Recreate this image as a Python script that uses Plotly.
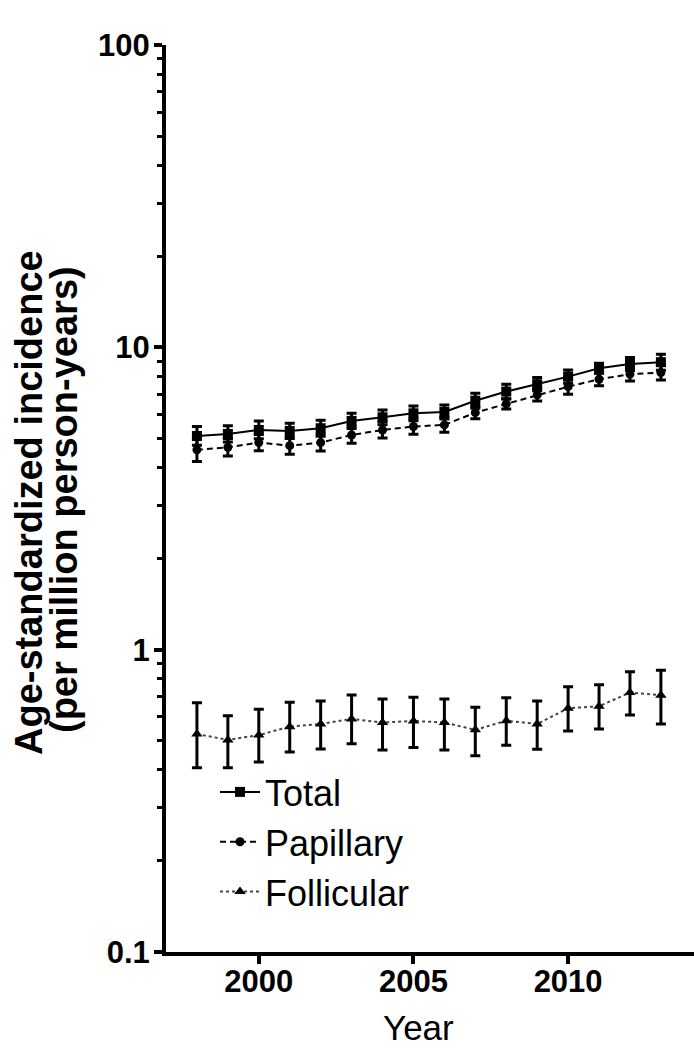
import plotly.graph_objects as go

years = list(range(1998, 2014))

total = [5.09, 5.17, 5.33, 5.29, 5.40, 5.71, 5.87, 6.05, 6.11, 6.66, 7.14, 7.55, 8.00, 8.53, 8.81, 8.93]
total_hi = [5.47, 5.50, 5.71, 5.61, 5.74, 6.05, 6.21, 6.40, 6.45, 7.05, 7.55, 7.94, 8.42, 8.86, 9.25, 9.49]
total_lo = [4.74, 4.86, 4.98, 4.99, 5.08, 5.39, 5.55, 5.72, 5.79, 6.29, 6.75, 7.18, 7.60, 8.21, 8.39, 8.40]

papillary = [4.58, 4.67, 4.84, 4.73, 4.84, 5.13, 5.33, 5.47, 5.54, 6.08, 6.50, 6.96, 7.41, 7.84, 8.15, 8.25]
papillary_hi = [5.01, 4.99, 5.15, 5.05, 5.16, 5.46, 5.67, 5.80, 5.86, 6.37, 6.76, 7.28, 7.84, 8.23, 8.58, 8.73]
papillary_lo = [4.19, 4.37, 4.55, 4.43, 4.54, 4.82, 5.01, 5.16, 5.24, 5.80, 6.25, 6.65, 7.00, 7.47, 7.74, 7.80]

follicular = [0.526, 0.503, 0.522, 0.556, 0.568, 0.590, 0.574, 0.581, 0.574, 0.543, 0.582, 0.568, 0.640, 0.650, 0.721, 0.707]
follicular_hi = [0.668, 0.605, 0.635, 0.670, 0.677, 0.708, 0.687, 0.696, 0.687, 0.645, 0.694, 0.677, 0.754, 0.766, 0.846, 0.855]
follicular_lo = [0.407, 0.407, 0.425, 0.459, 0.469, 0.488, 0.466, 0.475, 0.466, 0.446, 0.483, 0.468, 0.538, 0.547, 0.608, 0.568]

x_ticks = [2000, 2005, 2010]
y_ticks = [0.1, 1, 10, 100]
y_ticktext = ["0.1", "1", "10", "100"]
y_minor = [0.2, 0.3, 0.4, 0.5, 0.6, 0.7, 0.8, 0.9, 2, 3, 4, 5, 6, 7, 8, 9, 20, 30, 40, 50, 60, 70, 80, 90]

FONT = "Liberation Sans, Arial, Helvetica, sans-serif"

W, H = 694, 1050
ML, MR, MT, MB = 166, 0, 45, 98
PW, PH = W - ML - MR, H - MT - MB


def px_x(px):
    return (px - ML) / PW


def px_y(py):
    return (H - MB - py) / PH


def err(v, hi, lo):
    return dict(type="data", symmetric=False,
                array=[h - a for h, a in zip(hi, v)],
                arrayminus=[a - l for a, l in zip(v, lo)],
                color="black", thickness=3, width=5)


fig = go.Figure()
fig.add_trace(go.Scatter(
    x=years, y=total, name="Total", mode="lines+markers",
    line=dict(color="black", width=2),
    marker=dict(symbol="square", size=10, color="black"),
    error_y=err(total, total_hi, total_lo)))
fig.add_trace(go.Scatter(
    x=years, y=papillary, name="Papillary", mode="lines+markers",
    line=dict(color="black", width=2, dash="6px,4px"),
    marker=dict(symbol="circle", size=9, color="black"),
    error_y=err(papillary, papillary_hi, papillary_lo)))
fig.add_trace(go.Scatter(
    x=years, y=follicular, name="Follicular", mode="lines+markers",
    line=dict(color="#444444", width=2, dash="dot"),
    marker=dict(symbol="triangle-up", size=10, color="black"),
    error_y=err(follicular, follicular_hi, follicular_lo)))

fig.update_layout(
    width=W, height=H,
    margin=dict(l=ML, r=MR, t=MT, b=MB, pad=0),
    paper_bgcolor="white", plot_bgcolor="white",
    font=dict(family=FONT, color="black"),
    showlegend=True,
    legend=dict(x=px_x(215), y=px_y(762), xanchor="left", yanchor="top",
                font=dict(family=FONT, size=36, color="black"),
                bgcolor="rgba(0,0,0,0)", borderwidth=0, itemwidth=40,
                traceorder="normal"),
    xaxis=dict(range=[1997.0, 2014.07], tickvals=x_ticks,
               ticks="outside", ticklen=8, tickwidth=4, tickcolor="black",
               showline=True, linewidth=4, linecolor="black",
               showgrid=False, zeroline=False, ticklabelstandoff=-9,
               tickfont=dict(family=FONT, size=31, weight="bold")),
    yaxis=dict(type="log", range=[-1, 2], tickvals=y_ticks, ticktext=y_ticktext,
               ticks="outside", ticklen=8, tickwidth=4, tickcolor="black",
               showline=True, linewidth=4, linecolor="black",
               showgrid=False, zeroline=False, ticklabelstandoff=-2,
               tickfont=dict(family=FONT, size=31, weight="bold"),
               minor=dict(tickvals=y_minor, ticks="outside", ticklen=5,
                          tickwidth=3, tickcolor="black", showgrid=False)),
    annotations=[
        dict(text="Age-standardized incidence", textangle=-90,
             x=px_x(29), y=px_y(503), xref="paper", yref="paper",
             xanchor="center", yanchor="middle", showarrow=False,
             font=dict(family=FONT, size=38, weight="bold")),
        dict(text="(per million person-years)", textangle=-90,
             x=px_x(64), y=px_y(500), xref="paper", yref="paper",
             xanchor="center", yanchor="middle", showarrow=False,
             font=dict(family=FONT, size=38, weight="bold")),
        dict(text="Year", x=px_x(418), y=px_y(1049), xref="paper", yref="paper",
             xanchor="center", yanchor="bottom", showarrow=False,
             font=dict(family=FONT, size=35)),
    ],
)

fig.write_html(
    "out.html",
    config={"displayModeBar": False},
    post_script="document.body.style.margin='0';document.body.style.overflow='hidden';",
)
